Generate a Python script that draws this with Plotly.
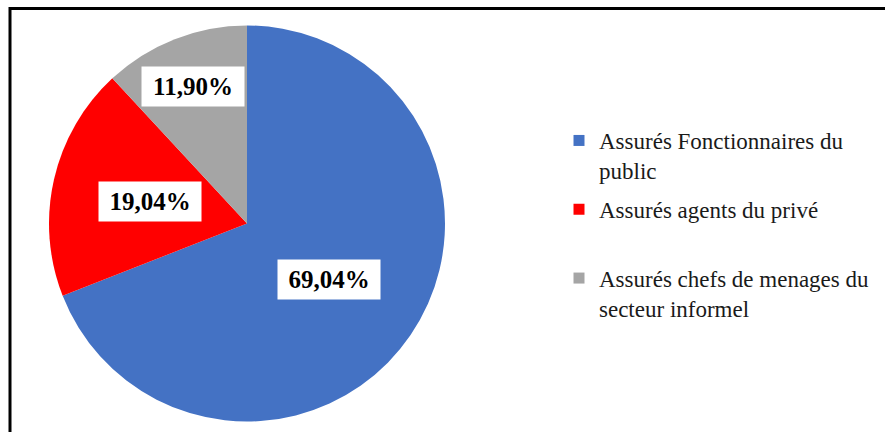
import math
import plotly.graph_objects as go

# ---- data ----
categories = [
    "Assurés Fonctionnaires du<br>public",
    "Assurés agents du privé<br> ",
    "Assurés chefs de menages du<br>secteur informel",
]
values = [69.04, 19.04, 11.90]
colors = ["#4472C4", "#FF0000", "#A5A5A5"]

# ---- geometry / style ----
W, H = 885, 432
CX, CY, R = 247, 223.5, 198          # pie centre & radius in px
label_radius_frac = [0.50, 0.50, 0.745]
SERIF = "Liberation Serif"

fig = go.Figure()

fig.add_trace(go.Pie(
    labels=categories,
    values=values,
    sort=False,
    direction="clockwise",
    rotation=0,
    marker=dict(colors=colors, line=dict(width=0)),
    textinfo="none",
    hoverinfo="label+percent",
    showlegend=False,
    domain=dict(x=[(CX - R) / W, (CX + R) / W],
                y=[1 - (CY + R) / H, 1 - (CY - R) / H]),
))

# legend entries (one group per category so spacing can be set)
for i, (name, col) in enumerate(zip(categories, colors)):
    fig.add_trace(go.Scatter(
        x=[None], y=[None], mode="markers",
        marker=dict(symbol="square", size=11, color=col),
        name=name, legendgroup=f"g{i}", showlegend=True,
    ))

# value labels in white boxes, positioned at slice mid-angles
total = sum(values)
cum = 0.0
annotations = []
for v, f in zip(values, label_radius_frac):
    mid = (cum + v / 2) / total * 2 * math.pi
    cum += v
    xp = CX + f * R * math.sin(mid)
    yp = CY - f * R * math.cos(mid)
    annotations.append(dict(
        x=xp / W, y=1 - yp / H, xref="paper", yref="paper",
        text=f"{v:.2f}".replace(".", ",") + "%",
        showarrow=False, xanchor="center", yanchor="middle",
        font=dict(family=SERIF, size=25, color="black", weight="bold"),
        bgcolor="white", borderpad=1, width=100, height=37,
    ))

fig.update_layout(
    width=W, height=H,
    margin=dict(l=0, r=0, t=0, b=0),
    paper_bgcolor="white", plot_bgcolor="white",
    font=dict(family=SERIF),
    xaxis=dict(visible=False), yaxis=dict(visible=False),
    annotations=annotations,
    legend=dict(
        x=(599 - 40) / W, y=1 - 119 / H, xanchor="left", yanchor="top",
        font=dict(family=SERIF, size=23, color="#1a1a1a"),
        traceorder="grouped", tracegroupgap=6, valign="top",
        bgcolor="rgba(0,0,0,0)",
    ),
    shapes=[dict(type="rect", xref="paper", yref="paper",
                 x0=10 / W, x1=1.02, y0=-0.02, y1=1 - 8.5 / H,
                 line=dict(color="black", width=3), layer="above")],
)

fig.write_html("out.html")
